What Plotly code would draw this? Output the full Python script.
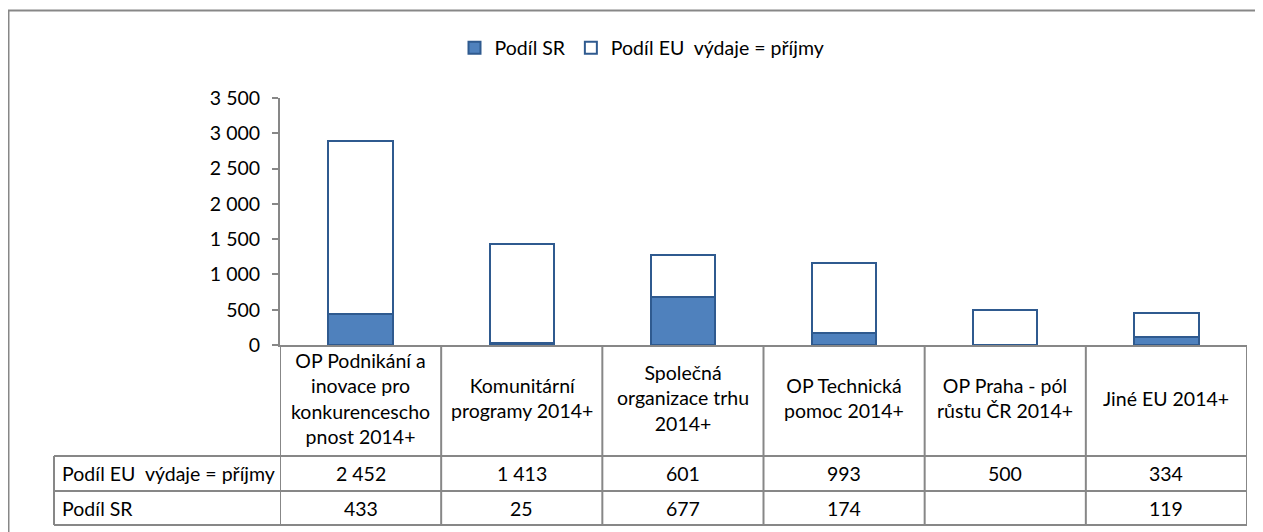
import plotly.graph_objects as go

# data
categories = ['OP Podnikání a inovace pro konkurenceschopnost 2014+',
              'Komunitární programy 2014+',
              'Společná organizace trhu 2014+',
              'OP Technická pomoc 2014+',
              'OP Praha - pól růstu ČR 2014+',
              'Jiné EU 2014+']
category_labels = ['OP Podnikání a<br>inovace pro<br>konkurencescho<br>pnost 2014+',
                   'Komunitární<br>programy 2014+',
                   'Společná<br>organizace trhu<br>2014+',
                   'OP Technická<br>pomoc 2014+',
                   'OP Praha - pól<br>růstu ČR 2014+',
                   'Jiné EU 2014+']
podil_sr = [433, 25, 677, 174, None, 119]
podil_eu = [2452, 1413, 601, 993, 500, 334]
name_sr = 'Podíl SR'
name_eu = 'Podíl EU\u00a0 výdaje = příjmy'
y_ticks = [0, 500, 1000, 1500, 2000, 2500, 3000, 3500]

# page is drawn with the default 8px body margin, so the figure is a bit smaller
OFF = 8
PAGE_W, PAGE_H = 1263, 532
W, H = PAGE_W - OFF, PAGE_H - OFF
# plot area in page pixels
P_L, P_R, P_T, P_B = 280, 1247, 98, 345
GRAY = '#878787'
EDGE = '#2F5A8F'
FONT = 'Lato, "Open Sans", sans-serif'
FS = 19.5


def px_x(px):
    return (px - P_L) / (P_R - P_L)


def px_y(py):
    return (P_B - py) / (P_B - P_T)


def fmt(v):
    return '' if v is None else f'{v:,}'.replace(',', ' ')


fig = go.Figure()
fig.add_trace(go.Bar(x=categories, y=podil_sr, name=name_sr, width=0.4,
                     marker=dict(color='#4F81BD', line=dict(color=EDGE, width=2))))
fig.add_trace(go.Bar(x=categories, y=podil_eu, name=name_eu, width=0.4,
                     marker=dict(color='white', line=dict(color=EDGE, width=2))))

fig.update_layout(
    width=W, height=H,
    barmode='stack',
    separators=', ',
    paper_bgcolor='white', plot_bgcolor='white',
    margin=dict(l=P_L - OFF, r=W - (P_R - OFF), t=P_T - OFF, b=H - (P_B - OFF)),
    font=dict(family=FONT, size=FS, color='black'),
    showlegend=True,
    legend=dict(orientation='h', x=px_x(642), xanchor='center', y=px_y(48), yanchor='middle',
                font=dict(size=FS), itemwidth=30, traceorder='normal', bgcolor='rgba(0,0,0,0)'),
)
fig.update_xaxes(showticklabels=False, ticks='', showgrid=False, zeroline=False,
                 showline=True, linecolor=GRAY, linewidth=2, range=[-0.5, 5.5])
fig.update_yaxes(range=[0, 3500], tickvals=y_ticks, tickformat=',', showgrid=False, zeroline=False,
                 showline=True, linecolor=GRAY, linewidth=2, ticks='outside', ticklen=6,
                 tickwidth=2, tickcolor=GRAY, tickfont=dict(size=FS), ticklabelstandoff=8)

# outer chart frame (runs off the canvas on the right and bottom like the reference)
fig.add_shape(type='rect', xref='paper', yref='paper', x0=px_x(8.5), x1=px_x(1290),
              y0=px_y(560), y1=px_y(10.5), line=dict(color=GRAY, width=2), layer='below')

# data table under the plot
row_header_bottom = px_y(456)
row_eu_bottom = px_y(491)
row_sr_bottom = px_y(525)
line = dict(color=GRAY, width=2)
for i in range(len(categories) + 1):
    fig.add_shape(type='line', xref='x', yref='paper', x0=i - 0.5, x1=i - 0.5,
                  y0=0, y1=row_sr_bottom, line=line)
for yy in (row_header_bottom, row_eu_bottom, row_sr_bottom):
    fig.add_shape(type='line', xref='paper', yref='paper', x0=px_x(54), x1=1,
                  y0=yy, y1=yy, line=line)
fig.add_shape(type='line', xref='paper', yref='paper', x0=px_x(54), x1=px_x(54),
              y0=row_header_bottom, y1=row_sr_bottom, line=line)

y_head = px_y(398)
y_eu = (row_header_bottom + row_eu_bottom) / 2
y_sr = (row_eu_bottom + row_sr_bottom) / 2
for cat, lab, eu, sr in zip(categories, category_labels, podil_eu, podil_sr):
    fig.add_annotation(x=cat, xref='x', yref='paper', y=y_head, yanchor='middle',
                       text=lab, showarrow=False, align='center')
    fig.add_annotation(x=cat, xref='x', yref='paper', y=y_eu, yanchor='middle',
                       text=fmt(eu), showarrow=False)
    fig.add_annotation(x=cat, xref='x', yref='paper', y=y_sr, yanchor='middle',
                       text=fmt(sr), showarrow=False)

for label, yy in ((name_eu, y_eu), (name_sr, y_sr)):
    fig.add_annotation(x=px_x(60), xref='paper', xanchor='left', yref='paper', y=yy,
                       yanchor='middle', text=label, showarrow=False)

fig.write_html("out.html")
